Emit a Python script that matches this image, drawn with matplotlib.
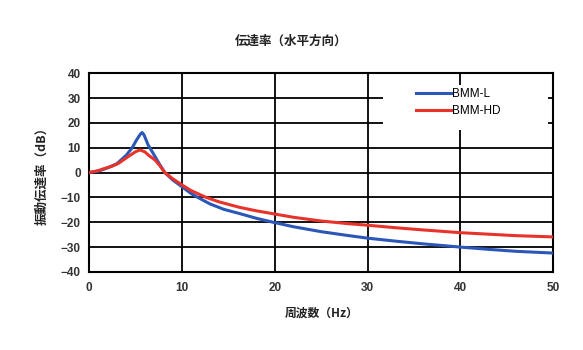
import matplotlib
matplotlib.use('Agg')
import matplotlib.pyplot as plt
from matplotlib.patches import Rectangle

plt.rcParams['font.family'] = ['Noto Sans CJK JP', 'DejaVu Sans']

# BMM-L (blue)
freq_l = [0, 1, 2, 3, 4, 4.6, 5.1, 5.5, 5.7, 5.9, 6.35, 7.1, 7.6, 8.15, 9, 10,
          11, 11.7, 13, 14.5, 16.2, 18, 19.7, 22, 25, 28, 30, 33, 36, 40, 43,
          46, 50]
db_l = [0, 0.6, 1.9, 3.6, 7.0, 9.8, 13.1, 15.4, 16.1, 15.2, 11.1, 6.4, 3.2, 0,
        -3, -5.7, -8.5, -10, -12.6, -14.8, -16.5, -18.4, -19.9, -21.8, -23.8,
        -25.4, -26.4, -27.6, -28.7, -30, -30.9, -31.7, -32.4]

# BMM-HD (red)
freq_hd = [0, 1, 1.7, 2.5, 3.15, 4.2, 5, 5.5, 6, 6.35, 7.1, 7.6, 8.15, 9, 10,
           11, 12.6, 14, 16.2, 18, 19.7, 22, 25, 28, 30, 33, 36, 40, 43, 46, 50]
db_hd = [0, 0.8, 1.7, 2.6, 3.7, 6.4, 8.4, 9.1, 8.3, 7.1, 5.0, 2.8, 0, -2.5,
         -5.0, -7.3, -10, -11.8, -14, -15.4, -16.5, -18, -19.5, -20.6, -21.2,
         -22.2, -23.1, -24.2, -24.8, -25.4, -25.9]

x_ticks = [0, 10, 20, 30, 40, 50]
y_ticks = [-40, -30, -20, -10, 0, 10, 20, 30, 40]
labels = ['BMM-L', 'BMM-HD']

fig = plt.figure(figsize=(5.83, 3.5), dpi=100)
ax = fig.add_axes([0.153, 0.223, 0.796, 0.568])

ax.set_xlim(0, 50)
ax.set_ylim(-40, 40)
ax.set_xticks(x_ticks)
ax.set_yticks(y_ticks)
ax.grid(True, color='black', linewidth=1.3)
ax.set_axisbelow(True)
for s in ax.spines.values():
    s.set_linewidth(1.5)
ax.tick_params(length=0, labelsize=8.5, labelcolor='#333333')
ax.tick_params(axis='y', pad=6)
ax.tick_params(axis='x', pad=7)
for t in ax.get_xticklabels() + ax.get_yticklabels():
    t.set_fontfamily(['Liberation Sans', 'DejaVu Sans'])
    t.set_fontweight('bold')

ax.plot(freq_l, db_l, color='#2b57b8', linewidth=2.2, label=labels[0],
        zorder=3)
ax.plot(freq_hd, db_hd, color='#e8332b', linewidth=2.2, label=labels[1],
        zorder=3)

# white patch behind legend
ax.add_patch(Rectangle((0.634, 0.714), 0.355, 0.226, transform=ax.transAxes,
                       facecolor='white', edgecolor='none', zorder=2.5))
leg = ax.legend(loc='upper left', bbox_to_anchor=(0.705, 0.925),
                frameon=False, borderpad=0, borderaxespad=0,
                handlelength=2.9, handletextpad=0.15, labelspacing=0.45,
                prop={'family': ['Liberation Sans', 'DejaVu Sans'],
                      'size': 8.5})
leg.set_zorder(4)

fig.text(0.5, 1 - 41 / 350, '伝達率（水平方向）', ha='center', va='center',
         fontsize=9, fontweight='bold', color='#222222')
ax.set_xlabel('周波数（Hz）', fontsize=8.5, fontweight='bold', color='#222222',
              labelpad=9)
ax.set_ylabel('振動伝達率（dB）', fontsize=9, fontweight='bold',
              color='#222222', labelpad=9)

fig.savefig('out.png', dpi=100)
